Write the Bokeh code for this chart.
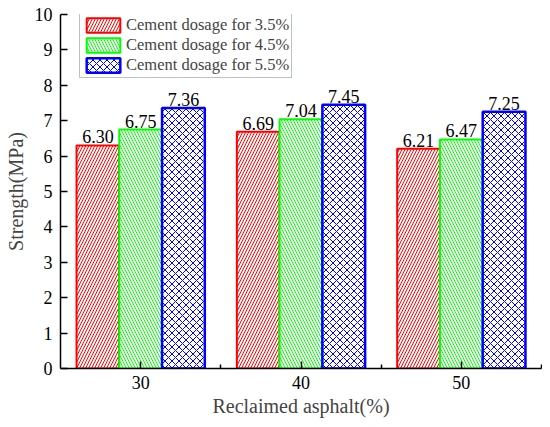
from bokeh.plotting import figure
from bokeh.models import Range1d, FixedTicker, Legend, LegendItem, ColumnDataSource
from bokeh.embed import file_html
from bokeh.resources import INLINE
from bokeh.core.properties import value
import numpy as np

# ---- data ----
categories = ["30", "40", "50"]
series_names = ["Cement dosage for 3.5%", "Cement dosage for 4.5%", "Cement dosage for 5.5%"]
s35 = [6.30, 6.69, 6.21]
s45 = [6.75, 7.04, 6.47]
s55 = [7.36, 7.45, 7.25]
y_ticks = list(range(0, 11))

FONT = "Liberation Serif"
colors = ["#ff0000", "#00ff00", "#0000ff"]
patterns = ["right_diagonal_line", "left_diagonal_line", "diagonal_cross"]
scales = [6, 6, 7]
lws = [2, 2, 2.5]

p = figure(width=542, height=419, output_backend="svg", toolbar_location=None,
           x_range=Range1d(0, 3), y_range=Range1d(0, 10),
           min_border_left=60, min_border_right=1, min_border_top=14, min_border_bottom=48)
p.outline_line_color = None
p.xgrid.visible = False
p.ygrid.visible = False
p.background_fill_color = "white"

ncat = len(categories)
centers = np.arange(ncat) + 0.5
bw = 0.8 / 3
offsets = [-bw, 0, bw]

items = []
for k, (vals, name) in enumerate(zip([s35, s45, s55], series_names)):
    src = ColumnDataSource(dict(x=centers + offsets[k], top=vals,
                                lab=[f"{v:.2f}" for v in vals]))
    r = p.vbar(x="x", top="top", width=bw, bottom=0, source=src,
               fill_color="white", line_color=colors[k], line_width=lws[k],
               hatch_pattern=patterns[k], hatch_color=colors[k],
               hatch_scale=scales[k], hatch_weight=1)
    p.text(x="x", y="top", text="lab", source=src, text_align="center",
           text_baseline="bottom", y_offset=-2, text_font=value(FONT),
           text_font_size="18px", text_color="black")
    items.append(LegendItem(label=name, renderers=[r]))

legend = Legend(items=items, location=(19, 290), border_line_color="#7f7f7f",
                border_line_width=1, background_fill_color="white", background_fill_alpha=1,
                padding=2, spacing=0, margin=0, glyph_width=42, glyph_height=18,
                label_standoff=2, label_text_font=FONT, label_text_font_size="16.5px",
                label_height=19)
p.add_layout(legend)

xa = p.xaxis[0]
xa.ticker = FixedTicker(ticks=list(centers), minor_ticks=list(range(1, ncat + 1)))
xa.major_label_overrides = {float(c): lab for c, lab in zip(centers, categories)}
xa.major_tick_in = 7
xa.major_tick_out = 0
xa.minor_tick_in = 4
xa.minor_tick_out = 0
xa.axis_line_width = 1.5
xa.major_tick_line_width = 1.5
xa.minor_tick_line_width = 1.5
xa.major_label_standoff = 7
xa.major_label_text_font = FONT
xa.major_label_text_font_size = "18px"
xa.major_label_text_color = "black"
xa.axis_label = "Reclaimed asphalt(%)"
xa.axis_label_text_font = FONT
xa.axis_label_text_font_style = "normal"
xa.axis_label_text_font_size = "20px"
xa.axis_label_standoff = 3

ya = p.yaxis[0]
ya.ticker = FixedTicker(ticks=y_ticks, minor_ticks=[])
ya.major_tick_in = 7
ya.major_tick_out = 0
ya.axis_line_width = 1.5
ya.major_tick_line_width = 1.5
ya.major_label_standoff = 8
ya.major_label_text_font = FONT
ya.major_label_text_font_size = "18px"
ya.major_label_text_color = "black"
ya.axis_label = "Strength(MPa)"
ya.axis_label_text_font = FONT
ya.axis_label_text_font_style = "normal"
ya.axis_label_text_font_size = "20px"
ya.axis_label_standoff = 5

open("out.html", "w").write(file_html(p, INLINE))
